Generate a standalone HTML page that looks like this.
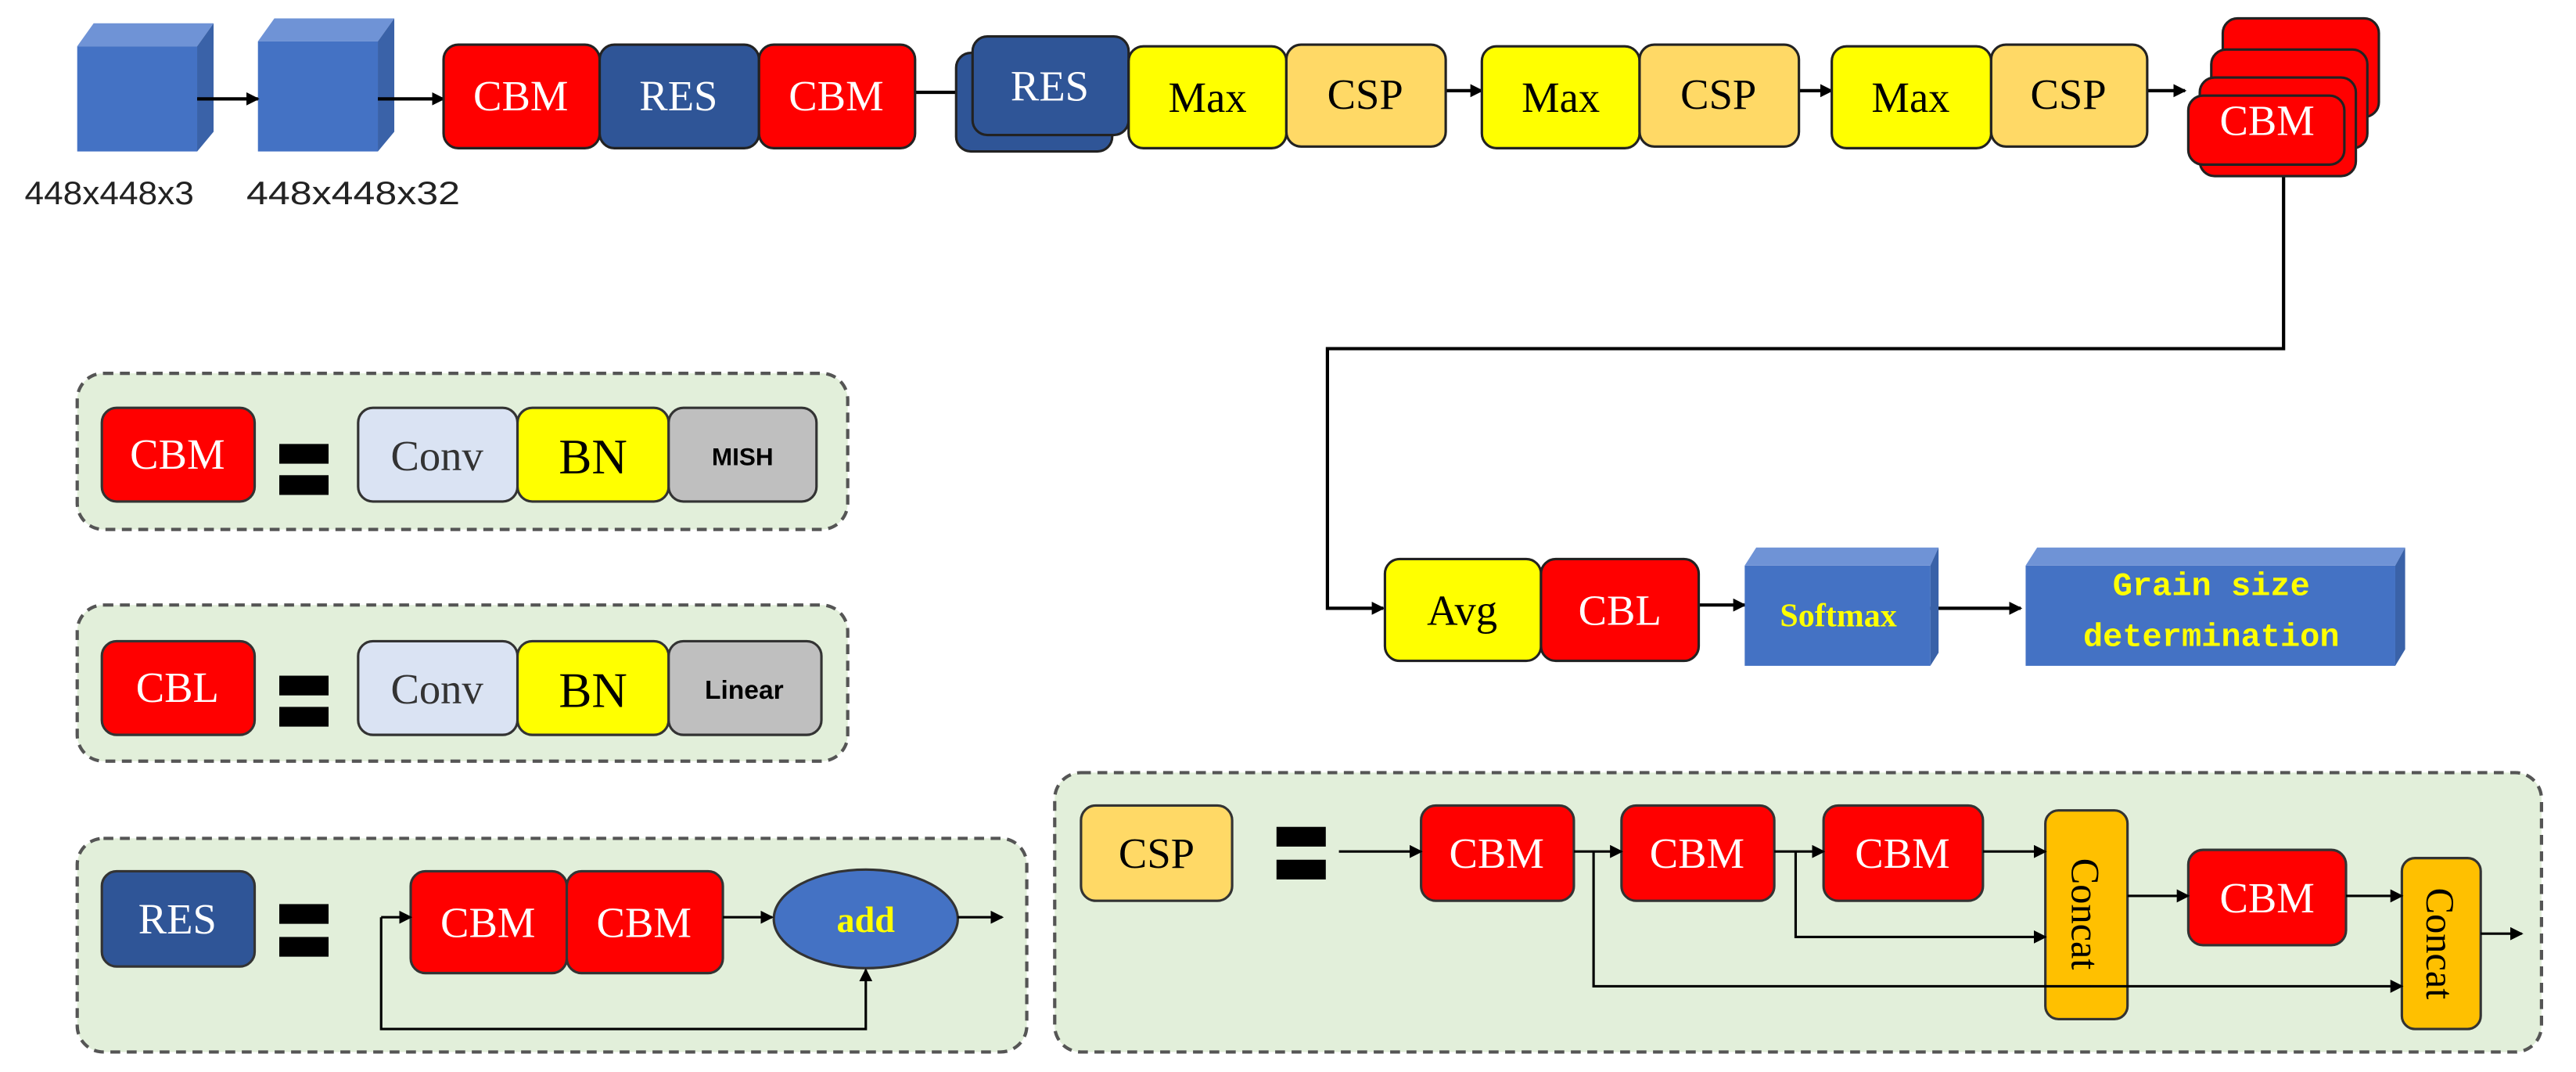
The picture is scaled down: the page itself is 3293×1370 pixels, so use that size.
<!DOCTYPE html>
<html><head><meta charset="utf-8"><style>
html,body{margin:0;padding:0;background:#fff;}
svg{display:block;}
text{font-family:"Liberation Serif",serif;}
</style></head><body>
<svg width="3293" height="1370" viewBox="0 0 1568 652" xmlns="http://www.w3.org/2000/svg">
<defs>
<marker id="a" markerWidth="8" markerHeight="8" refX="7" refY="4" orient="auto" markerUnits="userSpaceOnUse"><path d="M0,0 L8,4 L0,8 z" fill="#000"/></marker>
</defs>
<g stroke="#222" stroke-width="1.5">
<polygon points="47,28 57,14 130,14 120,28" fill="#6f93d6" stroke="none"/>
<polygon points="120,28 130,14 130,80 120,92" fill="#3a62a8" stroke="none"/>
<rect x="47" y="28" width="73" height="64" fill="#4472c4" stroke="none"/>
<polygon points="157,25 167,11 240,11 230,25" fill="#6f93d6" stroke="none"/>
<polygon points="230,25 240,11 240,80 230,92" fill="#3a62a8" stroke="none"/>
<rect x="157" y="25" width="73" height="67" fill="#4472c4" stroke="none"/>
</g>
<g font-size="20" fill="#222">
<text x="15" y="124" textLength="103" lengthAdjust="spacingAndGlyphs" style="font-family:'Liberation Sans',sans-serif">448x448x3</text>
<text x="150" y="124" textLength="130" lengthAdjust="spacingAndGlyphs" style="font-family:'Liberation Sans',sans-serif">448x448x32</text>
</g>
<g stroke="#000" stroke-width="2" fill="none" marker-end="url(#a)">
<line x1="120" y1="60" x2="157" y2="60"/>
<line x1="230" y1="60" x2="270" y2="60"/>
<line x1="557" y1="56" x2="590" y2="56"/>
<line x1="880" y1="55" x2="902" y2="55"/>
<line x1="1095" y1="55" x2="1115" y2="55"/>
<line x1="1307" y1="55" x2="1330" y2="55"/>
<polyline points="1390,98 1390,212 808,212 808,370 842,370" />
<line x1="1034" y1="368" x2="1062" y2="368"/>
<line x1="1175" y1="370" x2="1230" y2="370"/>
</g>
<g stroke="#222" stroke-width="1.5">
<rect x="270" y="27" width="95" height="63" rx="9" fill="#ff0000"/>
<rect x="365" y="27" width="97" height="63" rx="9" fill="#2f5597"/>
<rect x="462" y="27" width="95" height="63" rx="9" fill="#ff0000"/>
<rect x="582" y="32" width="95" height="60" rx="9" fill="#2f5597"/>
<rect x="592" y="22" width="95" height="60" rx="9" fill="#2f5597"/>
<rect x="687" y="28" width="96" height="62" rx="9" fill="#ffff00"/>
<rect x="783" y="27" width="97" height="62" rx="9" fill="#ffd966"/>
<rect x="902" y="28" width="96" height="62" rx="9" fill="#ffff00"/>
<rect x="998" y="27" width="97" height="62" rx="9" fill="#ffd966"/>
<rect x="1115" y="28" width="97" height="62" rx="9" fill="#ffff00"/>
<rect x="1212" y="27" width="95" height="62" rx="9" fill="#ffd966"/>
<rect x="1353" y="11" width="95" height="60" rx="9" fill="#ff0000"/>
<rect x="1346" y="30" width="95" height="60" rx="9" fill="#ff0000"/>
<rect x="1339" y="47" width="95" height="60" rx="9" fill="#ff0000"/>
<rect x="1332" y="58" width="95" height="42" rx="9" fill="#ff0000"/>
</g>
<g font-size="26" text-anchor="middle">
<text x="317" y="67" fill="#fff">CBM</text>
<text x="413" y="67" fill="#fff">RES</text>
<text x="509" y="67" fill="#fff">CBM</text>
<text x="639" y="61" fill="#fff">RES</text>
<text x="735" y="68" fill="#000">Max</text>
<text x="831" y="66" fill="#000">CSP</text>
<text x="950" y="68" fill="#000">Max</text>
<text x="1046" y="66" fill="#000">CSP</text>
<text x="1163" y="68" fill="#000">Max</text>
<text x="1259" y="66" fill="#000">CSP</text>
<text x="1380" y="82" fill="#fff">CBM</text>
</g>
<g stroke="#222" stroke-width="1.5">
<rect x="843" y="340" width="95" height="62" rx="9" fill="#ffff00"/>
<rect x="938" y="340" width="96" height="62" rx="9" fill="#ff0000"/>
</g>
<polygon points="1062,344 1069,333 1180,333 1175,344" fill="#6f93d6"/>
<polygon points="1175,344 1180,333 1180,397 1175,405" fill="#3a62a8"/>
<rect x="1062" y="344" width="113" height="61" fill="#4472c4"/>
<polygon points="1233,344 1240,333 1464,333 1458,344" fill="#6f93d6"/>
<polygon points="1458,344 1464,333 1464,395 1458,405" fill="#3a62a8"/>
<rect x="1233" y="344" width="225" height="61" fill="#4472c4"/>
<g text-anchor="middle">
<text x="890" y="380" font-size="26">Avg</text>
<text x="986" y="380" font-size="26" fill="#fff">CBL</text>
<text x="1119" y="381" font-size="20" font-weight="bold" fill="#ffff00">Softmax</text>
<text x="1346" y="362" font-size="20" fill="#ffff00" style="font-family:'Liberation Mono',monospace" font-weight="bold">Grain size</text>
<text x="1346" y="393" font-size="20" fill="#ffff00" style="font-family:'Liberation Mono',monospace" font-weight="bold">determination</text>
</g>
<g fill="#e2efda" stroke="#555" stroke-width="2" stroke-dasharray="6,4">
<rect x="47" y="227" width="469" height="95" rx="16"/>
<rect x="47" y="368" width="469" height="95" rx="16"/>
<rect x="47" y="510" width="578" height="130" rx="16"/>
<rect x="642" y="470" width="905" height="170" rx="16"/>
</g>
<g fill="#000">
<rect x="170" y="270" width="30" height="12"/><rect x="170" y="289" width="30" height="12"/>
<rect x="170" y="411" width="30" height="12"/><rect x="170" y="430" width="30" height="12"/>
<rect x="170" y="550" width="30" height="12"/><rect x="170" y="570" width="30" height="12"/>
<rect x="777" y="503" width="30" height="12"/><rect x="777" y="523" width="30" height="12"/>
</g>
<g stroke="#333" stroke-width="1.5">
<rect x="62" y="248" width="93" height="57" rx="9" fill="#ff0000"/>
<rect x="218" y="248" width="97" height="57" rx="9" fill="#dae3f3"/>
<rect x="315" y="248" width="92" height="57" rx="9" fill="#ffff00"/>
<rect x="407" y="248" width="90" height="57" rx="9" fill="#bfbfbf"/>
<rect x="62" y="390" width="93" height="57" rx="9" fill="#ff0000"/>
<rect x="218" y="390" width="97" height="57" rx="9" fill="#dae3f3"/>
<rect x="315" y="390" width="92" height="57" rx="9" fill="#ffff00"/>
<rect x="407" y="390" width="93" height="57" rx="9" fill="#bfbfbf"/>
<rect x="62" y="530" width="93" height="58" rx="9" fill="#2f5597"/>
<rect x="250" y="530" width="95" height="62" rx="9" fill="#ff0000"/>
<rect x="345" y="530" width="95" height="62" rx="9" fill="#ff0000"/>
<ellipse cx="527" cy="559" rx="56" ry="30" fill="#4472c4"/>
<rect x="658" y="490" width="92" height="58" rx="9" fill="#ffd966"/>
<rect x="865" y="490" width="93" height="58" rx="9" fill="#ff0000"/>
<rect x="987" y="490" width="93" height="58" rx="9" fill="#ff0000"/>
<rect x="1110" y="490" width="97" height="58" rx="9" fill="#ff0000"/>
<rect x="1245" y="493" width="50" height="127" rx="8" fill="#ffc000"/>
<rect x="1332" y="517" width="96" height="58" rx="9" fill="#ff0000"/>
<rect x="1462" y="522" width="48" height="104" rx="8" fill="#ffc000"/>
</g>
<g stroke="#000" stroke-width="1.5" fill="none" marker-end="url(#a)">
<line x1="232" y1="558" x2="250" y2="558"/>
<polyline points="232,558 232,626 527,626 527,590"/>
<line x1="440" y1="558" x2="470" y2="558"/>
<line x1="583" y1="558" x2="610" y2="558"/>
<line x1="815" y1="518" x2="865" y2="518"/>
<line x1="958" y1="518" x2="987" y2="518"/>
<line x1="1080" y1="518" x2="1110" y2="518"/>
<line x1="1207" y1="518" x2="1245" y2="518"/>
<polyline points="1093,518 1093,570 1245,570"/>
<polyline points="970,518 970,600 1462,600"/>
<line x1="1295" y1="545" x2="1332" y2="545"/>
<line x1="1428" y1="545" x2="1462" y2="545"/>
<line x1="1510" y1="568" x2="1535" y2="568"/>
</g>
<g text-anchor="middle" font-size="26">
<text x="108" y="285" fill="#fff">CBM</text>
<text x="266" y="286" fill="#333">Conv</text>
<text x="361" y="288" font-size="30">BN</text>
<text x="452" y="283" font-size="15" font-weight="bold" style="font-family:'Liberation Sans',sans-serif">MISH</text>
<text x="108" y="427" fill="#fff">CBL</text>
<text x="266" y="428" fill="#333">Conv</text>
<text x="361" y="430" font-size="30">BN</text>
<text x="453" y="425" font-size="16" font-weight="bold" style="font-family:'Liberation Sans',sans-serif">Linear</text>
<text x="108" y="568" fill="#fff">RES</text>
<text x="297" y="570" fill="#fff">CBM</text>
<text x="392" y="570" fill="#fff">CBM</text>
<text x="527" y="567" font-size="22" font-weight="bold" fill="#ffff00">add</text>
<text x="704" y="528">CSP</text>
<text x="911" y="528" fill="#fff">CBM</text>
<text x="1033" y="528" fill="#fff">CBM</text>
<text x="1158" y="528" fill="#fff">CBM</text>
<text x="1380" y="555" fill="#fff">CBM</text>
<text transform="translate(1261,556) rotate(90)" font-size="24">Concat</text>
<text transform="translate(1477,574) rotate(90)" font-size="24">Concat</text>
</g>
</svg>
</body></html>
